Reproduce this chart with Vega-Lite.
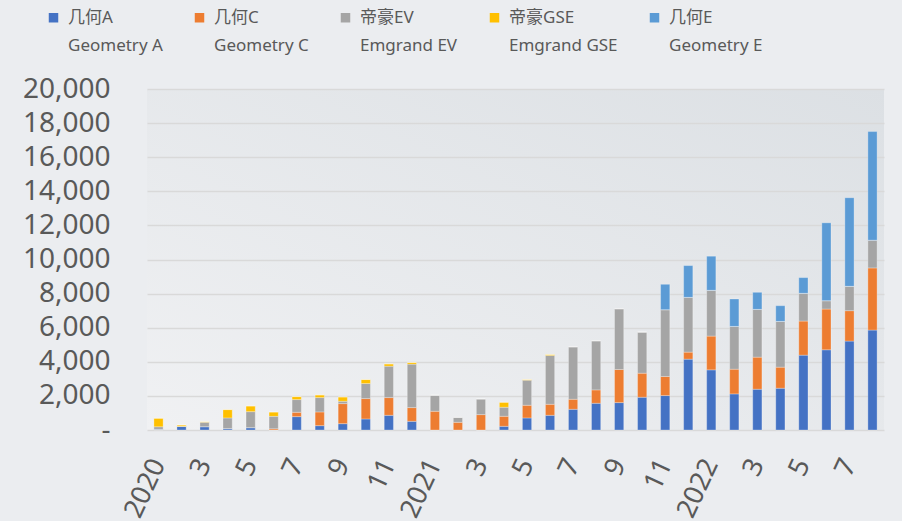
{
  "$schema": "https://vega.github.io/schema/vega-lite/v6.json",
  "width": 737,
  "height": 341,
  "autosize": {"type": "none"},
  "padding": {"left": 147, "top": 89, "right": 18, "bottom": 91},
  "background": "#EBEDF0",
  "config": {
    "view": {
      "stroke": null,
      "fill": {
        "gradient": "linear",
        "x1": 0, "y1": 1, "x2": 1, "y2": 0,
        "stops": [
          {"offset": 0, "color": "#F0F1F3"},
          {"offset": 1, "color": "#DCE0E4"}
        ]
      }
    },
    "font": "Noto Sans, Noto Sans CJK SC",
    "style": {"guide-label": {"lineHeight": 28}}
  },
  "data": {
    "values": [
      {"m": "2020-01", "A": 40, "C": 0, "EV": 150, "GSE": 500, "GeoE": 0},
      {"m": "2020-02", "A": 215, "C": 0, "EV": 0, "GSE": 80, "GeoE": 0},
      {"m": "2020-03", "A": 196, "C": 0, "EV": 255, "GSE": 40, "GeoE": 0},
      {"m": "2020-04", "A": 80, "C": 0, "EV": 627, "GSE": 490, "GeoE": 0},
      {"m": "2020-05", "A": 137, "C": 0, "EV": 940, "GSE": 333, "GeoE": 0},
      {"m": "2020-06", "A": 0, "C": 70, "EV": 730, "GSE": 255, "GeoE": 0},
      {"m": "2020-07", "A": 784, "C": 255, "EV": 745, "GSE": 176, "GeoE": 0},
      {"m": "2020-08", "A": 255, "C": 804, "EV": 843, "GSE": 157, "GeoE": 0},
      {"m": "2020-09", "A": 372, "C": 1176, "EV": 137, "GSE": 255, "GeoE": 0},
      {"m": "2020-10", "A": 647, "C": 1196, "EV": 882, "GSE": 235, "GeoE": 0},
      {"m": "2020-11", "A": 862, "C": 1039, "EV": 1842, "GSE": 137, "GeoE": 0},
      {"m": "2020-12", "A": 510, "C": 804, "EV": 2548, "GSE": 98, "GeoE": 0},
      {"m": "2021-01", "A": 0, "C": 1098, "EV": 941, "GSE": 0, "GeoE": 0},
      {"m": "2021-02", "A": 0, "C": 451, "EV": 294, "GSE": 0, "GeoE": 0},
      {"m": "2021-03", "A": 0, "C": 902, "EV": 921, "GSE": 0, "GeoE": 0},
      {"m": "2021-04", "A": 216, "C": 588, "EV": 529, "GSE": 294, "GeoE": 0},
      {"m": "2021-05", "A": 706, "C": 745, "EV": 1470, "GSE": 40, "GeoE": 0},
      {"m": "2021-06", "A": 862, "C": 647, "EV": 2862, "GSE": 59, "GeoE": 0},
      {"m": "2021-07", "A": 1215, "C": 588, "EV": 3077, "GSE": 0, "GeoE": 0},
      {"m": "2021-08", "A": 1568, "C": 784, "EV": 2881, "GSE": 0, "GeoE": 0},
      {"m": "2021-09", "A": 1607, "C": 1940, "EV": 3567, "GSE": 0, "GeoE": 0},
      {"m": "2021-10", "A": 1921, "C": 1411, "EV": 2411, "GSE": 0, "GeoE": 0},
      {"m": "2021-11", "A": 2019, "C": 1117, "EV": 3920, "GSE": 0, "GeoE": 1490},
      {"m": "2021-12", "A": 4155, "C": 412, "EV": 3214, "GSE": 0, "GeoE": 1862},
      {"m": "2022-01", "A": 3528, "C": 1980, "EV": 2685, "GSE": 0, "GeoE": 2000},
      {"m": "2022-02", "A": 2117, "C": 1450, "EV": 2509, "GSE": 0, "GeoE": 1607},
      {"m": "2022-03", "A": 2391, "C": 1882, "EV": 2803, "GSE": 0, "GeoE": 1000},
      {"m": "2022-04", "A": 2450, "C": 1235, "EV": 2685, "GSE": 0, "GeoE": 921},
      {"m": "2022-05", "A": 4390, "C": 2000, "EV": 1627, "GSE": 0, "GeoE": 921},
      {"m": "2022-06", "A": 4704, "C": 2391, "EV": 490, "GSE": 0, "GeoE": 4567},
      {"m": "2022-07", "A": 5214, "C": 1784, "EV": 1431, "GSE": 0, "GeoE": 5194},
      {"m": "2022-08", "A": 5860, "C": 3646, "EV": 1627, "GSE": 0, "GeoE": 6370}
    ]
  },
  "transform": [
    {"fold": ["A", "C", "EV", "GSE", "GeoE"], "as": ["series", "value"]}
  ],
  "mark": {"type": "bar", "stroke": "#FFFFFF", "strokeOpacity": 0.35, "strokeWidth": 0.8},
  "encoding": {
    "x": {
      "field": "m",
      "type": "ordinal",
      "scale": {"paddingInner": 0.6, "paddingOuter": 0.3},
      "axis": {
        "title": null,
        "ticks": false,
        "domain": false,
        "labelAngle": -65,
        "labelPadding": 30,
        "labelFontSize": 27,
        "labelColor": "#595959",
        "labelFont": "Noto Sans",
        "labelOverlap": false,
        "labelExpr": "substring(datum.value,5,7)=='01' ? substring(datum.value,0,4) : (toNumber(substring(datum.value,5,7)) % 2 == 1 ? toString(toNumber(substring(datum.value,5,7))) : '')"
      }
    },
    "y": {
      "field": "value",
      "type": "quantitative",
      "stack": "zero",
      "scale": {"domain": [0, 20000], "nice": false},
      "axis": {
        "title": null,
        "values": [0, 2000, 4000, 6000, 8000, 10000, 12000, 14000, 16000, 18000, 20000],
        "format": ",d",
        "labelExpr": "datum.value == 0 ? '-\u2007' : datum.label",
        "ticks": false,
        "domain": false,
        "labelPadding": 37,
        "labelFontSize": 28,
        "labelColor": "#595959",
        "labelFont": "Noto Sans",
        "gridColor": "#D9D9D9",
        "gridWidth": 1.5
      }
    },
    "color": {
      "field": "series",
      "type": "nominal",
      "scale": {
        "domain": ["A", "C", "EV", "GSE", "GeoE"],
        "range": ["#4472C4", "#ED7D31", "#A5A5A5", "#FFC000", "#5B9BD5"]
      },
      "legend": {
        "title": null,
        "orient": "none",
        "legendX": -102,
        "legendY": -80,
        "direction": "horizontal",
        "columns": 5,
        "padding": 0,
        "columnPadding": 28,
        "symbolType": "square",
        "symbolSize": 90,
        "symbolStrokeWidth": 0,
        "labelFontSize": 17,
        "labelColor": "#595959",
        "labelFont": "Noto Sans, Noto Sans CJK SC",
        "labelOffset": 6,
        "labelLimit": 300,
        "labelBaseline": "middle",
        "labelExpr": "datum.label=='A' ? ['几何A','Geometry A'] : datum.label=='C' ? ['几何C','Geometry C'] : datum.label=='EV' ? ['帝豪EV','Emgrand EV'] : datum.label=='GSE' ? ['帝豪GSE','Emgrand GSE'] : ['几何E','Geometry E']"
      }
    },
    "order": {"field": "series", "sort": "ascending"}
  }
}
